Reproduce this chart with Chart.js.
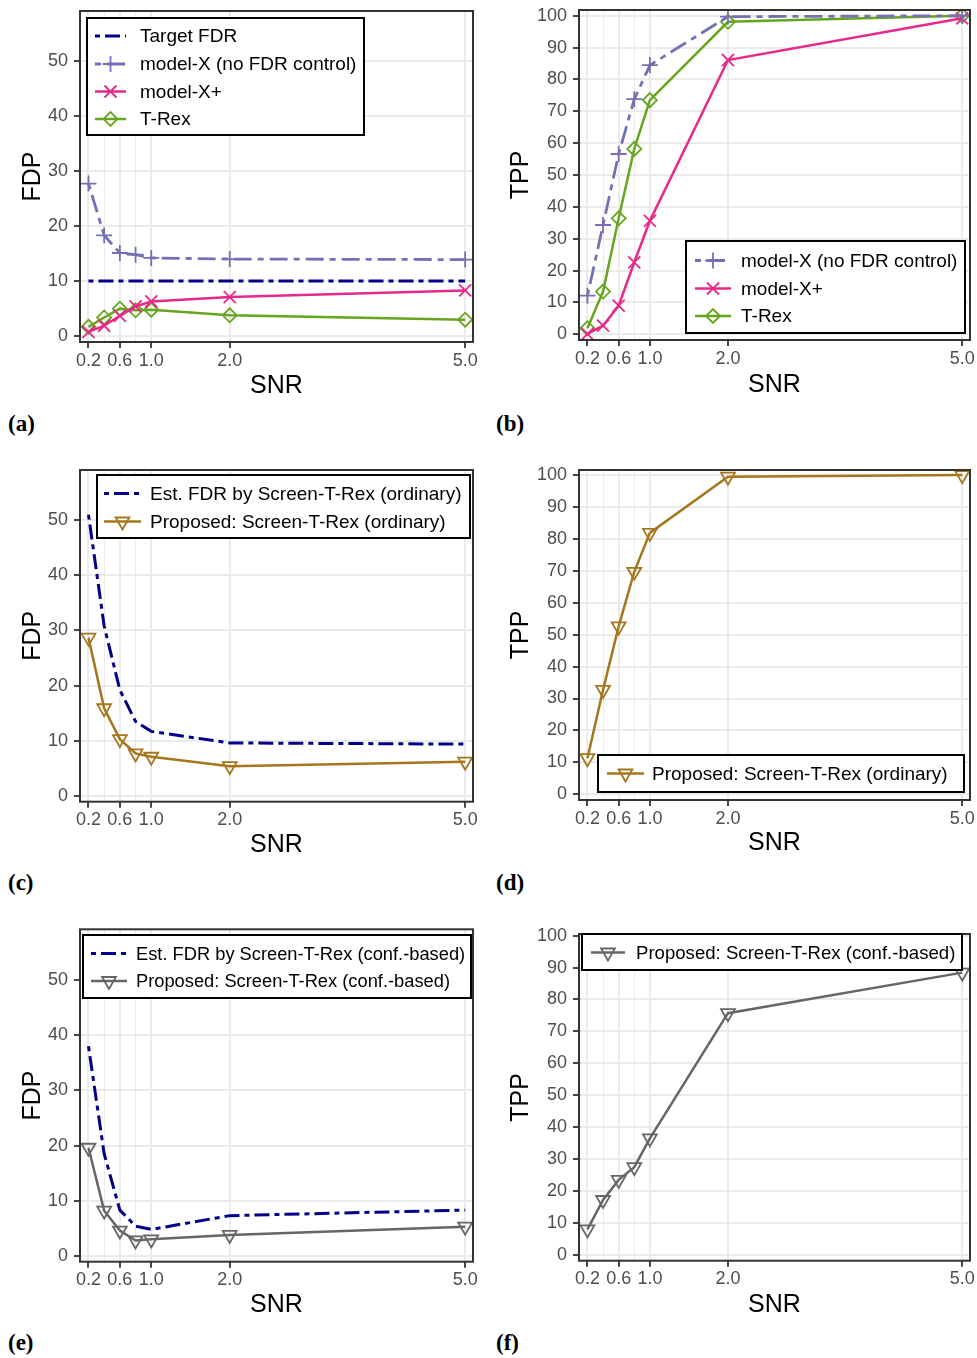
<!DOCTYPE html>
<html>
<head>
<meta charset="utf-8">
<script src="https://cdn.jsdelivr.net/npm/chart.js@4.4.1/dist/chart.umd.min.js"></script>
<style>
body { margin: 0; background: #fff; width: 977px; height: 1358px; position: relative; overflow: hidden; }
canvas { position: absolute; }
.tag { position: absolute; font-family: "Liberation Serif", "DejaVu Serif", serif; font-weight: bold; font-size: 23px; line-height: 24px; color: #000; }
</style>
</head>
<body>
<canvas id="chartA" width="480" height="401" style="left:0px;top:0px"></canvas>
<canvas id="chartB" width="487" height="400" style="left:490px;top:0px"></canvas>
<canvas id="chartC" width="480" height="400" style="left:0px;top:460px"></canvas>
<canvas id="chartD" width="487" height="398" style="left:490px;top:460px"></canvas>
<canvas id="chartE" width="480" height="400" style="left:0px;top:920px"></canvas>
<canvas id="chartF" width="487" height="400" style="left:490px;top:920px"></canvas>

<div class="tag" style="left:8px;top:412px">(a)</div>
<div class="tag" style="left:496px;top:412px">(b)</div>
<div class="tag" style="left:8px;top:871px">(c)</div>
<div class="tag" style="left:496px;top:871px">(d)</div>
<div class="tag" style="left:8px;top:1331px">(e)</div>
<div class="tag" style="left:496px;top:1331px">(f)</div>

<script>
// ---------------- DATA ----------------
const snr = [0.2, 0.4, 0.6, 0.8, 1.0, 2.0, 5.0];
const xTickLabels = ["0.2", "", "0.6", "", "1.0", "2.0", "5.0"];
const fdpTicks = [0, 10, 20, 30, 40, 50];
const tppTicks = [0, 10, 20, 30, 40, 50, 60, 70, 80, 90, 100];

// (a) / (b)
const targetFdr = [10, 10, 10, 10, 10, 10, 10];
const fdpModelX = [27.7, 18.3, 15.1, 14.8, 14.2, 14.0, 13.9];
const fdpModelXPlus = [0.8, 1.9, 3.7, 5.4, 6.3, 7.1, 8.3];
const fdpTRex = [1.7, 3.4, 5.0, 4.7, 4.8, 3.8, 3.0];
const tppModelX = [12.1, 34.3, 56.6, 73.8, 84.5, 99.7, 100];
const tppModelXPlus = [0.1, 2.7, 9.0, 22.6, 35.6, 86.1, 99.2];
const tppTRex = [1.9, 13.4, 36.4, 58.2, 73.5, 98.1, 100];

// (c) / (d)
const estFdrOrdinary = [51.0, 30.8, 19.2, 13.5, 11.7, 9.6, 9.4];
const fdpOrdinary = [28.7, 15.9, 10.3, 7.7, 7.1, 5.4, 6.2];
const tppOrdinary = [11.3, 32.7, 52.6, 69.7, 81.9, 99.5, 100];

// (e) / (f)
const estFdrConf = [38.0, 18.5, 8.3, 5.4, 4.8, 7.3, 8.3];
const fdpConf = [19.6, 8.2, 4.6, 2.8, 3.0, 3.8, 5.3];
const tppConf = [8.0, 17.2, 23.5, 27.5, 36.5, 75.7, 88.4];

// ---------------- STYLES ----------------
Chart.defaults.font.family = '"Liberation Sans", Arial, Helvetica, sans-serif';

const hollow = "rgba(0,0,0,0)";
const navyDash = { borderColor: "#00008B", borderWidth: 3, borderDash: [5, 5, 15, 5], pointRadius: 0 };
const modelXStyle = { borderColor: "#7570B3", borderWidth: 2.8, borderDash: [6, 6, 18, 6], pointStyle: "cross", pointRadius: 8, pointBorderWidth: 1.8, pointBorderColor: "#7570B3", pointBackgroundColor: hollow };
const modelXPlusStyle = { borderColor: "#E7298A", borderWidth: 2.5, pointStyle: "crossRot", pointRadius: 8.5, pointBorderWidth: 1.8, pointBorderColor: "#E7298A", pointBackgroundColor: hollow };
const tRexStyle = { borderColor: "#66A61E", borderWidth: 2.5, pointStyle: "rectRot", pointRadius: 7, pointBorderWidth: 1.8, pointBorderColor: "#66A61E", pointBackgroundColor: hollow };
const ordinaryStyle = { borderColor: "#A6761D", borderWidth: 2.5, pointStyle: "triangle", pointRotation: 180, pointRadius: 8, pointBorderWidth: 1.8, pointBorderColor: "#A6761D", pointBackgroundColor: hollow };
const confStyle = { borderColor: "#666666", borderWidth: 2.5, pointStyle: "triangle", pointRotation: 180, pointRadius: 8, pointBorderWidth: 1.8, pointBorderColor: "#666666", pointBackgroundColor: hollow };

function series(label, values, style) {
    return Object.assign({
        label: label,
        data: snr.map((x, i) => ({ x: x, y: values[i] })),
        tension: 0,
        fill: false
    }, style);
}

// ---------------- PLUGINS ----------------
const frame = {
    id: "frame",
    afterDraw(chart) {
        const a = chart.chartArea;
        const ctx = chart.ctx;
        ctx.save();
        ctx.strokeStyle = "#333333";
        ctx.lineWidth = 2;
        ctx.strokeRect(a.left, a.top, a.right - a.left, a.bottom - a.top);
        ctx.restore();
    }
};

const boxLegend = {
    id: "boxLegend",
    afterDraw(chart, args, opts) {
        if (!opts || !opts.rows) return;
        const ctx = chart.ctx;
        const ox = opts.origin[0], oy = opts.origin[1];
        const b = opts.box;
        ctx.save();
        ctx.fillStyle = "#fff";
        ctx.fillRect(b[0] - ox, b[1] - oy, b[2] - b[0], b[3] - b[1]);
        ctx.strokeStyle = "#000";
        ctx.lineWidth = 2;
        ctx.strokeRect(b[0] - ox, b[1] - oy, b[2] - b[0], b[3] - b[1]);

        opts.rows.forEach(row => {
            const ds = chart.data.datasets[row.ds];
            const y = row.y - oy;
            const x1 = opts.keyX[0] - ox, x2 = opts.keyX[1] - ox;
            ctx.strokeStyle = ds.borderColor;
            ctx.lineWidth = ds.borderWidth;
            ctx.setLineDash(ds.borderDash || []);
            ctx.beginPath();
            ctx.moveTo(x1, y);
            ctx.lineTo(x2, y);
            ctx.stroke();
            ctx.setLineDash([]);
            if (ds.pointRadius > 0) {
                ctx.strokeStyle = ds.pointBorderColor;
                ctx.fillStyle = hollow;
                ctx.lineWidth = ds.pointBorderWidth;
                Chart.helpers.drawPoint(ctx, {
                    pointStyle: ds.pointStyle,
                    rotation: ds.pointRotation || 0,
                    radius: ds.pointRadius,
                    borderWidth: ds.pointBorderWidth
                }, (x1 + x2) / 2, y);
            }
            ctx.fillStyle = "#000";
            ctx.font = opts.fontSize + 'px "Liberation Sans", Arial, sans-serif';
            ctx.textBaseline = "middle";
            ctx.textAlign = "left";
            ctx.fillText(ds.label, opts.textX - ox, y + 1);
        });
        ctx.restore();
    }
};

// ---------------- CHART FACTORY ----------------
function makePanel(id, p) {
    const yTicks = p.kind === "FDP" ? fdpTicks : tppTicks;
    new Chart(document.getElementById(id), {
        type: "line",
        data: { datasets: p.datasets },
        plugins: [frame, boxLegend],
        options: {
            responsive: false,
            animation: false,
            devicePixelRatio: 1,
            layout: { autoPadding: false, padding: { left: 0, top: p.padTop, right: p.padRight, bottom: 0 } },
            plugins: {
                legend: { display: false },
                tooltip: { enabled: false },
                boxLegend: p.legend
            },
            scales: {
                x: {
                    type: "linear",
                    min: 0.092,
                    max: 5.1,
                    afterBuildTicks: s => { s.ticks = snr.map(v => ({ value: v })); },
                    afterFit: s => {
                        s.height = p.xHeight;
                        s.paddingLeft = 0; s.paddingRight = 0;
                    },
                    ticks: {
                        autoSkip: false,
                        maxRotation: 0,
                        padding: 2,
                        color: "#4D4D4D",
                        font: { size: 18 },
                        callback: (v, i) => xTickLabels[i]
                    },
                    grid: {
                        color: "#EBEBEB",
                        lineWidth: c => (xTickLabels[c.index] ? 2 : 1),
                        tickLength: 6,
                        tickWidth: 1.8,
                        tickColor: c => (xTickLabels[c.index] ? "#333333" : hollow)
                    },
                    border: { display: false },
                    title: {
                        display: true,
                        text: "SNR",
                        color: "#000",
                        font: { size: 25 },
                        padding: { top: 0, bottom: 0 }
                    }
                },
                y: {
                    type: "linear",
                    min: p.yMin,
                    max: p.yMax,
                    afterBuildTicks: s => { s.ticks = yTicks.map(v => ({ value: v })); },
                    afterFit: s => {
                        s.width = p.yWidth;
                        s.paddingTop = 0; s.paddingBottom = 0;
                    },
                    ticks: {
                        padding: 6,
                        color: "#4D4D4D",
                        font: { size: 18 }
                    },
                    grid: {
                        color: "#EBEBEB",
                        lineWidth: 2,
                        tickLength: 6,
                        tickWidth: 1.8,
                        tickColor: "#333333"
                    },
                    border: { display: false },
                    title: {
                        display: true,
                        text: p.kind,
                        color: "#000",
                        font: { size: 25 },
                        padding: { top: p.yTitlePad, bottom: 0 }
                    }
                }
            }
        }
    });
}

// ---------------- PANELS ----------------
makePanel("chartA", {
    kind: "FDP", yMin: -1.05, yMax: 59.0,
    padTop: 11, padRight: 7, yWidth: 80, xHeight: 59, yTitlePad: 18,
    datasets: [
        series("Target FDR", targetFdr, navyDash),
        series("model-X (no FDR control)", fdpModelX, modelXStyle),
        series("model-X+", fdpModelXPlus, modelXPlusStyle),
        series("T-Rex", fdpTRex, tRexStyle)
    ],
    legend: {
        origin: [0, 0], box: [87, 18, 364, 135], keyX: [95, 126], textX: 140, fontSize: 19,
        rows: [{ ds: 0, y: 36 }, { ds: 1, y: 64 }, { ds: 2, y: 91.5 }, { ds: 3, y: 119 }]
    }
});

makePanel("chartB", {
    kind: "TPP", yMin: -1.8, yMax: 101.8,
    padTop: 10, padRight: 7, yWidth: 89, xHeight: 60, yTitlePad: 16,
    datasets: [
        series("model-X (no FDR control)", tppModelX, modelXStyle),
        series("model-X+", tppModelXPlus, modelXPlusStyle),
        series("T-Rex", tppTRex, tRexStyle)
    ],
    legend: {
        origin: [490, 0], box: [686, 241, 965, 333], keyX: [695, 731], textX: 741, fontSize: 19,
        rows: [{ ds: 0, y: 260.5 }, { ds: 1, y: 288.5 }, { ds: 2, y: 316 }]
    }
});

makePanel("chartC", {
    kind: "FDP", yMin: -1.05, yMax: 59.1,
    padTop: 10, padRight: 7, yWidth: 80, xHeight: 58.3, yTitlePad: 18,
    datasets: [
        series("Est. FDR by Screen-T-Rex (ordinary)", estFdrOrdinary, navyDash),
        series("Proposed: Screen-T-Rex (ordinary)", fdpOrdinary, ordinaryStyle)
    ],
    legend: {
        origin: [0, 460], box: [97, 475, 470, 538], keyX: [104, 141], textX: 150, fontSize: 19,
        rows: [{ ds: 0, y: 493.5 }, { ds: 1, y: 521.5 }]
    }
});

makePanel("chartD", {
    kind: "TPP", yMin: -1.8, yMax: 101.6,
    padTop: 10, padRight: 7, yWidth: 89, xHeight: 58, yTitlePad: 16,
    datasets: [
        series("Proposed: Screen-T-Rex (ordinary)", tppOrdinary, ordinaryStyle)
    ],
    legend: {
        origin: [490, 460], box: [598, 755, 964, 792], keyX: [607, 644], textX: 652, fontSize: 19,
        rows: [{ ds: 0, y: 773.5 }]
    }
});

makePanel("chartE", {
    kind: "FDP", yMin: -1.05, yMax: 59.2,
    padTop: 9.3, padRight: 7, yWidth: 80, xHeight: 58.3, yTitlePad: 18,
    datasets: [
        series("Est. FDR by Screen-T-Rex (conf.-based)", estFdrConf, navyDash),
        series("Proposed: Screen-T-Rex (conf.-based)", fdpConf, confStyle)
    ],
    legend: {
        origin: [0, 920], box: [83, 935, 471, 998], keyX: [91, 127], textX: 136, fontSize: 18.3,
        rows: [{ ds: 0, y: 953.5 }, { ds: 1, y: 981 }]
    }
});

makePanel("chartF", {
    kind: "TPP", yMin: -1.8, yMax: 100.5,
    padTop: 14, padRight: 7, yWidth: 89, xHeight: 59.3, yTitlePad: 16,
    datasets: [
        series("Proposed: Screen-T-Rex (conf.-based)", tppConf, confStyle)
    ],
    legend: {
        origin: [490, 920], box: [582, 934, 962, 970], keyX: [591, 625], textX: 636, fontSize: 18.6,
        rows: [{ ds: 0, y: 952.5 }]
    }
});
</script>
</body>
</html>
